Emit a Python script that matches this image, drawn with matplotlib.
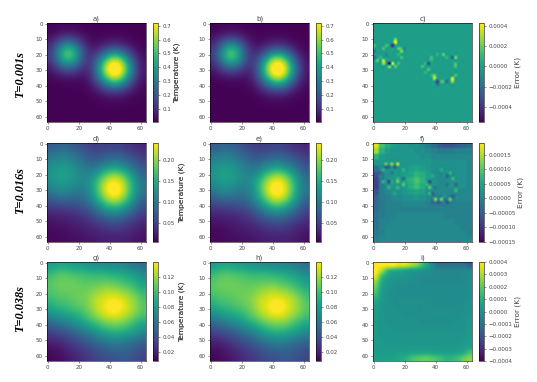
import numpy as np
import matplotlib
matplotlib.use('Agg')
import matplotlib.pyplot as plt

W, H = 537, 382

temp_a = [
    [.011, .015, .019, .018, .013, .009, .008, .009, .009, .009, .009, .008, .008],
    [.023, .048, .071, .064, .036, .017, .012, .014, .017, .016, .013, .010, .009],
    [.070, .170, .270, .240, .120, .039, .027, .042, .065, .060, .037, .019, .011],
    [.120, .310, .520, .460, .220, .080, .075, .160, .230, .220, .140, .050, .019],
    [.130, .330, .550, .490, .240, .100, .180, .370, .560, .540, .320, .130, .034],
    [.080, .210, .330, .290, .160, .100, .260, .580, .820, .780, .500, .200, .049],
    [.035, .080, .120, .110, .070, .080, .260, .580, .830, .790, .500, .200, .049],
    [.012, .019, .026, .024, .023, .050, .180, .380, .570, .550, .330, .130, .035],
    [.008, .009, .010, .010, .012, .025, .080, .170, .240, .230, .150, .060, .020],
    [.008, .008, .008, .008, .009, .013, .024, .043, .059, .057, .038, .020, .011],
    [.008, .008, .008, .008, .008, .009, .011, .015, .018, .017, .014, .010, .009],
    [.008, .008, .008, .008, .008, .008, .008, .009, .009, .009, .009, .008, .008],
    [.008, .008, .008, .008, .008, .008, .008, .008, .008, .008, .008, .008, .008],
]
temp_d = [
    [.070, .080, .080, .070, .060, .050, .045, .050, .050, .050, .040, .035, .030],
    [.090, .100, .100, .090, .080, .065, .060, .065, .070, .070, .060, .050, .040],
    [.110, .120, .120, .110, .095, .080, .080, .090, .100, .100, .085, .070, .055],
    [.125, .135, .135, .125, .110, .100, .105, .135, .150, .145, .120, .095, .070],
    [.125, .140, .140, .130, .115, .115, .145, .185, .215, .210, .170, .120, .085],
    [.115, .130, .130, .120, .110, .120, .165, .220, .255, .245, .195, .135, .095],
    [.095, .110, .110, .100, .100, .115, .160, .220, .260, .250, .195, .135, .095],
    [.070, .080, .080, .080, .080, .100, .140, .185, .220, .210, .170, .115, .080],
    [.045, .050, .050, .055, .060, .075, .100, .135, .155, .150, .120, .090, .060],
    [.025, .030, .030, .035, .040, .050, .070, .085, .100, .095, .080, .060, .045],
    [.015, .020, .020, .025, .030, .035, .045, .055, .060, .060, .050, .040, .030],
    [.010, .012, .015, .020, .020, .025, .030, .035, .040, .040, .035, .028, .020],
    [.010, .010, .012, .015, .015, .020, .020, .025, .025, .025, .025, .020, .015],
]
temp_g = [
    [.080, .085, .085, .080, .080, .075, .075, .070, .070, .070, .065, .060, .055],
    [.095, .105, .105, .100, .100, .095, .095, .095, .090, .090, .085, .080, .070],
    [.105, .110, .110, .110, .105, .105, .105, .105, .105, .100, .095, .090, .080],
    [.105, .110, .110, .110, .110, .110, .115, .120, .120, .115, .110, .100, .090],
    [.100, .105, .105, .110, .110, .115, .125, .130, .135, .130, .125, .115, .100],
    [.090, .100, .100, .105, .110, .115, .130, .135, .145, .145, .130, .120, .105],
    [.080, .085, .090, .095, .100, .110, .125, .135, .145, .140, .130, .120, .105],
    [.060, .070, .075, .080, .090, .100, .110, .120, .125, .125, .115, .105, .095],
    [.045, .050, .055, .065, .070, .080, .090, .100, .105, .105, .100, .090, .080],
    [.030, .035, .040, .045, .055, .060, .070, .080, .085, .085, .080, .075, .065],
    [.020, .022, .028, .035, .040, .045, .055, .060, .065, .065, .060, .055, .050],
    [.012, .015, .020, .025, .030, .035, .040, .045, .050, .050, .050, .045, .040],
    [.010, .012, .015, .020, .025, .030, .035, .040, .040, .045, .045, .040, .035],
]

# error maps, in units of 1e-5 (f) and 1e-4 (c, i)
err_f_base = [
    [17, 9, 6, 4, 3, 3, 2, 2, 1, -1, -3, -5, -6, -6, -5, -4, -3],
    [14, 7, 4, 3, 3, 3, 3, 2, 2, 1, 0, -1, -1, -1, 0, 0, 0],
    [7, 4, 3, 3, 3, 3, 3, 3, 2, 2, 1, 1, 1, 1, 1, 1, 1],
    [3, 3, 3, 3, 3, 3, 3, 3, 3, 3, 2, 2, 2, 2, 2, 2, 1],
    [-2, 1, 2, 3, 3, 3, 4, 5, 4, 3, 2, 2, 2, 2, 2, 2, 1],
    [-6, 0, 2, 3, 3, 4, 5, 7, 6, 4, 2, 1, 2, 2, 2, 2, 1],
    [-8, -1, 2, 3, 3, 5, 7, 9, 7, 4, 2, 1, 1, 2, 2, 2, 1],
    [-8, -1, 2, 3, 3, 4, 6, 8, 6, 3, 2, 1, 1, 2, 2, 2, 1],
    [-6, -1, 1, 2, 2, 3, 4, 5, 4, 2, 1, 1, 1, 1, 1, 1, 1],
    [-4, -1, 0, 1, 1, 2, 2, 3, 2, 1, 0, 0, 0, 0, 1, 1, 1],
    [-3, -1, 0, 0, 0, 1, 1, 1, 1, 0, -1, -1, -1, 0, 0, 0, 0],
    [-3, -1, 0, 0, 0, 0, 0, 0, 0, 0, 0, 0, 0, 0, 0, 0, 0],
    [-2, -1, 0, 0, 1, 1, 1, 1, 1, 1, 1, 1, 0, 0, 0, 0, 0],
    [-2, 0, 0, 1, 1, 1, 1, 1, 1, 1, 1, 1, 1, 1, 0, 0, 0],
    [-2, 0, 1, 1, 1, 1, 1, 1, 1, 1, 1, 1, 1, 1, 1, 0, 0],
    [-1, 0, 1, 1, 1, 1, 1, 1, 1, 1, 1, 1, 1, 1, 1, 1, 0],
    [0, 1, 1, 1, 1, 1, 1, 1, 1, 1, 1, 1, 1, 1, 1, 1, 1],
]
err_i_base = [
    [4, 4, 4, 4, 3.5, 3.5, 3, 2.5, 1.5, .5, -.5, -1, -1, -1, -1, -1, -1.5],
    [4, 3, 1.5, 1, .8, .6, .4, .3, .2, 0, -.2, -.3, -.3, -.3, -.3, -.3, -.2],
    [3.5, 1.5, .6, .3, .2, .2, .1, 0, -.1, -.2, -.2, -.3, -.3, -.3, -.3, -.2, -.1],
    [2.5, .9, .3, .1, 0, 0, -.1, -.1, -.2, -.2, -.2, -.2, -.2, -.2, -.2, -.2, 0],
    [2, .6, .2, 0, -.1, -.1, -.1, -.1, -.1, -.1, -.1, -.1, -.1, -.1, -.1, -.1, 0],
    [1.5, .4, .1, 0, -.1, -.1, -.1, -.1, -.1, -.1, -.1, -.1, -.1, -.1, -.1, -.1, 0],
    [.8, .3, .1, 0, 0, 0, 0, 0, 0, -.1, -.1, -.1, -.1, -.1, -.1, -.1, 0],
    [.5, .2, .1, 0, 0, 0, 0, 0, 0, 0, -.1, -.1, -.1, -.1, -.1, 0, .1],
    [.4, .2, .1, .1, 0, 0, 0, 0, 0, 0, 0, 0, 0, 0, 0, 0, .1],
    [.3, .2, .1, .1, .1, 0, 0, 0, 0, 0, 0, 0, 0, 0, 0, .1, .2],
    [.3, .2, .1, .1, .1, .1, .1, .1, 0, 0, 0, 0, 0, 0, .1, .1, .2],
    [.3, .2, .2, .1, .1, .1, .1, .1, .1, .1, .1, .1, .1, .1, .1, .1, .3],
    [.3, .2, .2, .2, .2, .2, .2, .2, .2, .2, .2, .2, .2, .2, .2, .2, .3],
    [.3, .3, .2, .2, .2, .2, .2, .2, .2, .2, .2, .2, .2, .2, .2, .3, .4],
    [.3, .3, .3, .3, .3, .3, .3, .3, .3, .3, .3, .3, .3, .3, .3, .4, .6],
    [.4, .4, .4, .4, .5, .5, .6, .7, .7, .7, .6, .5, .5, .5, .6, .8, 1.5],
    [.5, .5, .6, .6, .8, 1, 1.5, 1.8, 2, 2, 1.8, 1.5, 1.2, 1.2, 1.5, 2, 2.5],
]

# (row, col, value) read off panel c), 1e-4
spots_c = [
    (12, 13, 4.3), (10, 13, 2.8), (13, 11, -4.5), (15, 15, 2), (13, 8, 1.5), (17, 18, 2.5),
    (15, 18, 1.5), (16, 20, -1), (21, 18, 1.5), (20, 15, 1), (25, 16, 1.5), (26, 11, 4.0),
    (28, 10, 3), (25, 9, -5.5), (23, 6, 3.5), (25, 6, 3), (24, 2, 2), (22, 0, -2), (18, 0, -1.5),
    (13, 0, 1.5), (15, 6, 1.5), (19, 7, -1), (21, 4, 1), (27, 13, 2),
    (26, 35, -3), (24, 37, 1), (22, 38, 1.5), (20, 42, 1), (19, 46, 2),
    (21, 48, 1), (22, 51, -2.5), (22, 54, 2.5), (26, 53, 1.5), (28, 54, 1.5),
    (33, 53, 1.5), (35, 51, 4.2), (37, 51, 3), (37, 48, -2), (38, 45, 1.5), (38, 41, -3.5),
    (40, 41, -2), (36, 40, 3.5), (34, 40, 2.5), (34, 38, 1), (37, 44, 1), (30, 36, 1.5),
    (32, 34, 1), (28, 32, 1.5), (25, 33, 1),
]
# (row, col, value) read off panel f), 1e-5
spots_f = [
    (13, 8, 11), (13, 11, 13), (13, 15, 16), (15, 7, -6), (15, 10, -5), (15, 13, -6),
    (17, 5, 7), (20, 4, -5), (24, 5, 7), (25, 9, -8), (25, 12, 6), (22, 15, 8),
    (25, 15, 11), (28, 15, 8), (27, 19, 10), (22, 20, -4), (18, 19, 7), (29, 9, 7),
    (19, 12, -2), (32, 14, 5),
    (24, 36, -8), (29, 36, 10), (26, 34, 7), (21, 38, 6), (18, 43, 6), (21, 47, -5),
    (19, 49, 7), (22, 52, 8), (26, 54, -5), (30, 54, 8), (34, 52, -6), (37, 49, 11),
    (39, 47, -7), (37, 44, 12), (39, 42, -6), (37, 40, 13), (39, 38, -4), (33, 39, -5),
    (33, 36, 7), (29, 41, -2), (27, 48, -2), (34, 46, 4),
]
# colorbars
vlims_a = (0.005, 0.72)
vlims_d = (0.005, 0.24)
vlims_g = (0.008, 0.14)
vlims_c = (-5.5, 4.3)
vlims_f = (-15, 19)
vlims_i = (-4, 4)
ticks_a = [0.1, 0.2, 0.3, 0.4, 0.5, 0.6, 0.7]
labels_a = ['0.1', '0.2', '0.3', '0.4', '0.5', '0.6', '0.7']
ticks_d = [0.05, 0.10, 0.15, 0.20]
labels_d = ['0.05', '0.10', '0.15', '0.20']
ticks_g = [0.02, 0.04, 0.06, 0.08, 0.10, 0.12]
labels_g = ['0.02', '0.04', '0.06', '0.08', '0.10', '0.12']
ticks_c = [-4, -2, 0, 2, 4]
labels_c = ['\u22120.0004', '\u22120.0002', '0.0000', '0.0002', '0.0004']
ticks_f = [-15, -10, -5, 0, 5, 10, 15]
labels_f = ['\u22120.00015', '\u22120.00010', '\u22120.00005', '0.00000', '0.00005', '0.00010', '0.00015']
ticks_i = [-4, -3, -2, -1, 0, 1, 2, 3, 4]
labels_i = ['\u22120.0004', '\u22120.0003', '\u22120.0002', '\u22120.0001', '0.0000',
            '0.0001', '0.0002', '0.0003', '0.0004']

row_names = ['T=0.001s', 'T=0.016s', 'T=0.038s']
row_name_y = [75, 191, 309]
row_top = [23, 143, 262]
col_left = [47, 210, 373]
cbar_left = [153, 316, 479]
cbar_label_x = [[177, 177, 518], [182, 182, 521], [182, 182, 518]]
SIZE = 99
CBAR_W = 5
TXT = '#444444'


def with_spots(base, spots, n):
    if base is None:
        grid = np.zeros((n, n))
    else:
        grid = np.kron(np.array(base, dtype=float), np.ones((2, 2)))
        n = grid.shape[0]
    step = 63.0 / (n - 1)
    for row, col, val in spots:
        grid[int(round(row / step)), int(round(col / step))] = val
    return grid


def panel(fig, r, c, data, vlims, title, ticks, labels, cbar_label, interp='bicubic'):
    ax = fig.add_axes([col_left[c] / W, 1 - (row_top[r] + SIZE) / H, SIZE / W, SIZE / H])
    im = ax.imshow(data, cmap='viridis', vmin=vlims[0], vmax=vlims[1], interpolation=interp,
                   extent=(-0.5, 63.5, 63.5, -0.5), aspect='auto')
    ax.set_xticks([0, 20, 40, 60])
    ax.set_yticks([0, 10, 20, 30, 40, 50, 60])
    ax.tick_params(length=1.5, width=0.4, labelsize=4, pad=1.5, colors=TXT)
    ax.set_title(title, fontsize=5, pad=2, color=TXT)
    for s in ax.spines.values():
        s.set_linewidth(0.4)
    cax = fig.add_axes([cbar_left[c] / W, 1 - (row_top[r] + SIZE) / H, CBAR_W / W, SIZE / H])
    cb = fig.colorbar(im, cax=cax)
    cb.set_ticks(ticks, labels=labels)
    cb.outline.set_linewidth(0.4)
    cax.tick_params(length=1.5, width=0.4, labelsize=4, pad=1.5, colors=TXT)
    lx = cbar_label_x[r][c]
    fig.text(lx / W, 1 - (row_top[r] + SIZE / 2) / H, cbar_label, rotation=90, fontsize=5.4,
             ha='center', va='center', color=TXT)


fig = plt.figure(figsize=(W / 100, H / 100), dpi=100)

err_c = with_spots(None, spots_c, 33)
err_f = with_spots(err_f_base, spots_f, 17)
err_i = np.array(err_i_base)

temp_label = 'Temperature (K)'
err_label = 'Error (K)'
panel(fig, 0, 0, temp_a, vlims_a, 'a)', ticks_a, labels_a, temp_label)
panel(fig, 0, 1, temp_a, vlims_a, 'b)', ticks_a, labels_a, temp_label)
panel(fig, 0, 2, err_c, vlims_c, 'c)', ticks_c, labels_c, err_label, 'catrom')
panel(fig, 1, 0, temp_d, vlims_d, 'd)', ticks_d, labels_d, temp_label)
panel(fig, 1, 1, temp_d, vlims_d, 'e)', ticks_d, labels_d, temp_label)
panel(fig, 1, 2, err_f, vlims_f, 'f)', ticks_f, labels_f, err_label, 'catrom')
panel(fig, 2, 0, temp_g, vlims_g, 'g)', ticks_g, labels_g, temp_label)
panel(fig, 2, 1, temp_g, vlims_g, 'h)', ticks_g, labels_g, temp_label)
panel(fig, 2, 2, err_i, vlims_i, 'i)', ticks_i, labels_i, err_label, 'catrom')

for name, y in zip(row_names, row_name_y):
    fig.text(20 / W, 1 - y / H, name, rotation=90, fontsize=8.8, ha='center', va='center',
             family='Liberation Serif', weight='bold', style='italic', color='black')

plt.savefig('out.png', dpi=100)
